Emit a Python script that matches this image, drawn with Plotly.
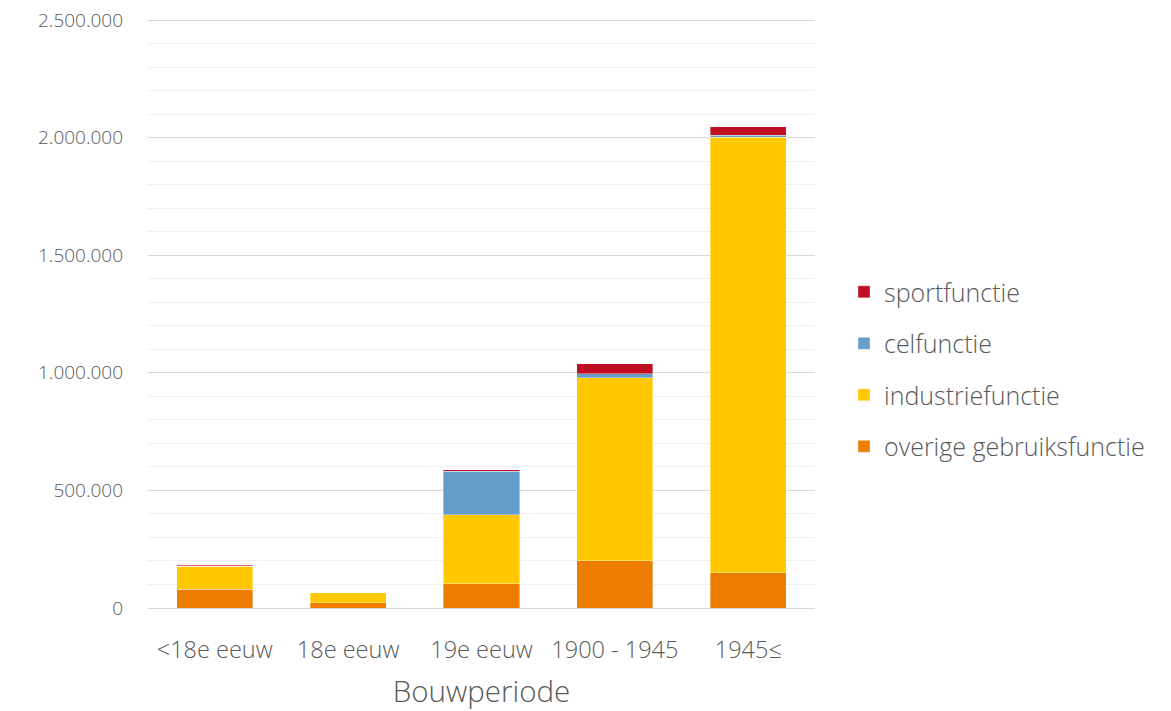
import plotly.graph_objects as go

categories = ["<18e eeuw", "18e eeuw", "19e eeuw", "1900 - 1945", "1945≤"]
overige = [79000, 22500, 103000, 201000, 150000]
industrie = [98000, 41500, 294000, 779000, 1851000]
cel = [1000, 500, 185000, 17000, 10000]
sport = [3000, 1000, 6000, 42000, 35000]

series = [
    ("overige gebruiksfunctie", overige, "#ED7D00"),
    ("industriefunctie", industrie, "#FFC800"),
    ("celfunctie", cel, "#659DC9"),
    ("sportfunctie", sport, "#C00F23"),
]

fig = go.Figure()
n = len(series)
for i, (name, vals, col) in enumerate(series):
    fig.add_trace(go.Bar(
        x=categories, y=vals, name=name, marker_color=col,
        marker_line_width=0.6, marker_line_color="rgba(255,255,255,0.6)",
        legendgroup=f"g{i}", legendrank=n - i,
    ))

font_family = "Open Sans, Segoe UI, sans-serif"
fig.update_layout(
    barmode="stack",
    bargap=0.43,
    width=1163, height=703,
    margin=dict(l=140, r=356, t=10, b=103, autoexpand=False),
    paper_bgcolor="white", plot_bgcolor="white",
    separators=",.",
    font=dict(family=font_family, color="#595959", size=20, weight=300),
    legend=dict(
        x=1.0435, xanchor="left", y=0.405, yanchor="middle",
        traceorder="grouped", tracegroupgap=16,
        font=dict(size=25, color="#595959", family=font_family, weight=300),
        itemwidth=30,
    ),
    showlegend=True,
)
fig.update_yaxes(
    range=[0, 2508500], tickmode="linear", tick0=0, dtick=500000, tickformat=",d",
    showgrid=True, gridcolor="#D9D9D9", gridwidth=1,
    minor=dict(dtick=100000, showgrid=True, gridcolor="#F0F0F0", gridwidth=1),
    zeroline=False, showline=False, ticks="",
    ticklabelstandoff=24, automargin=False, ticklabeloverflow="allow",
    tickfont=dict(size=19, color="#595959", family=font_family, weight=300),
)
fig.update_xaxes(
    showline=True, linecolor="#D9D9D9", linewidth=1, ticks="",
    automargin=False,
    tickfont=dict(size=23.5, color="#595959", family=font_family, weight=300),
    ticklabelstandoff=21,
    title=dict(text="Bouwperiode", standoff=24,
               font=dict(size=29.5, color="#595959", family=font_family, weight=300)),
)

fig.write_html("out.html")
